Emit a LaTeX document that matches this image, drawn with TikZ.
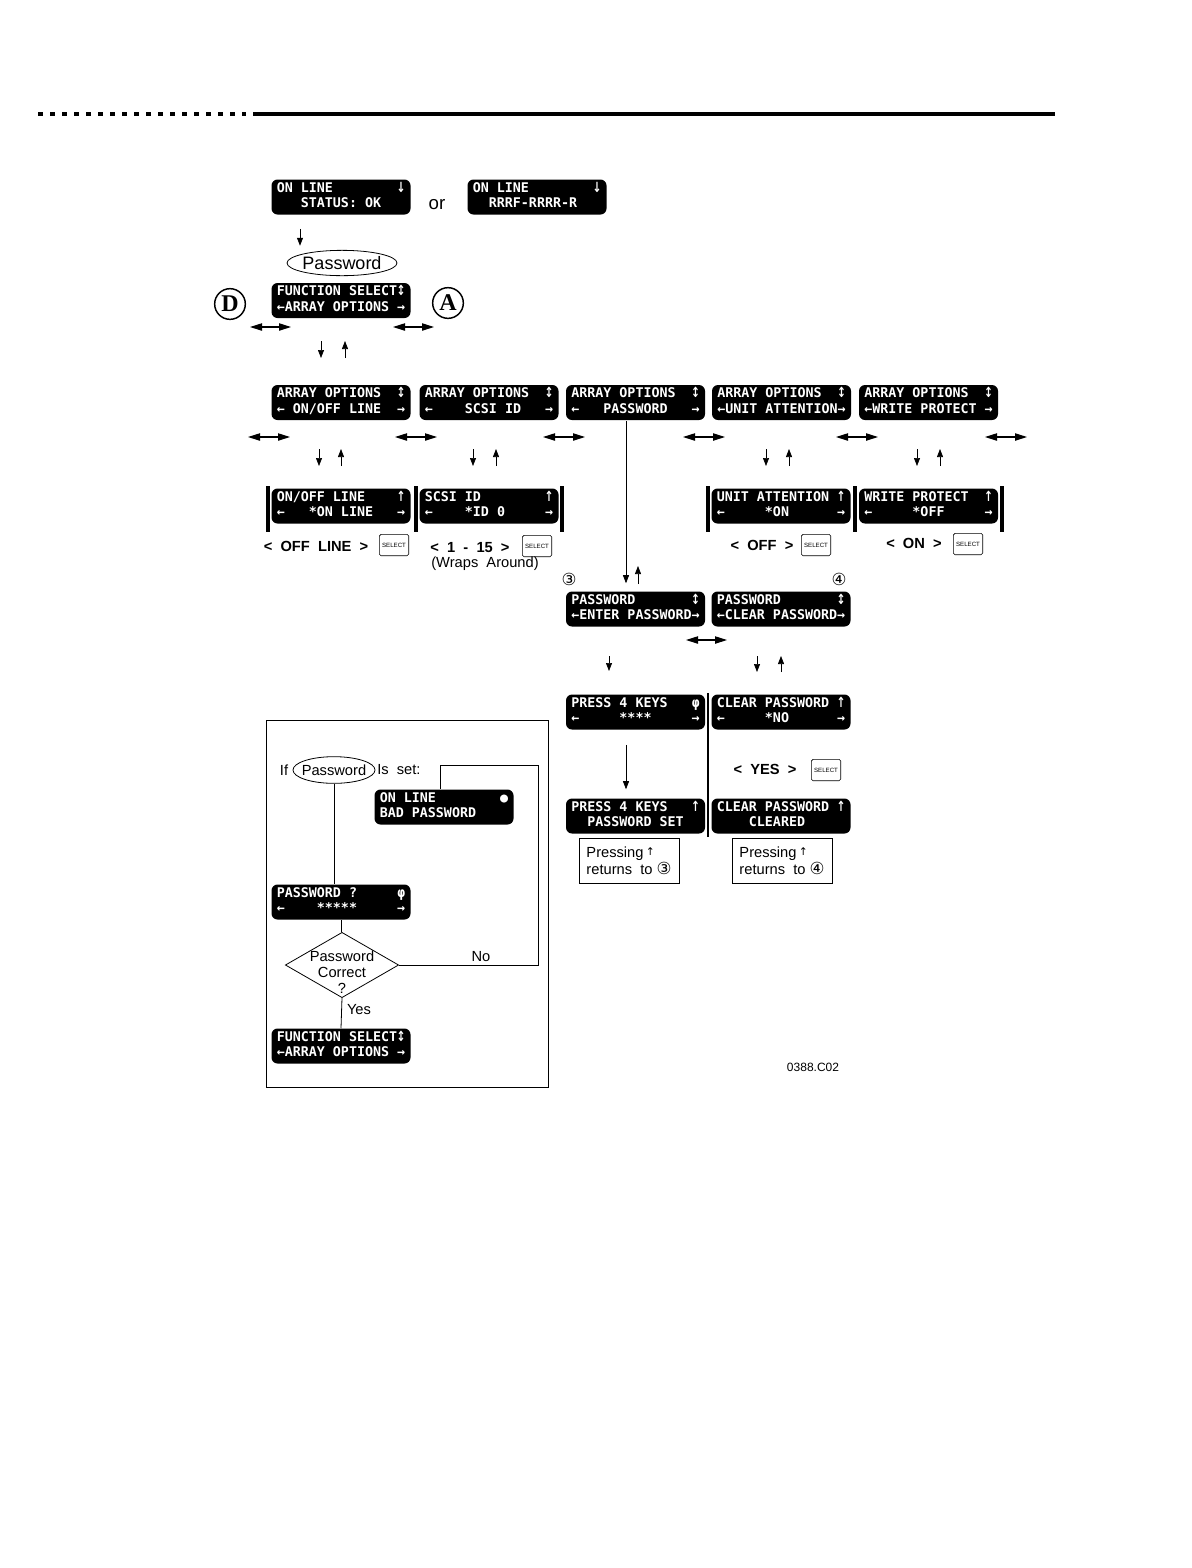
\documentclass[tikz,border=0pt]{standalone}
\usepackage{fontspec}
\usepackage{graphicx}
\setmainfont{Liberation Sans}
\newfontfamily\lcdfam{DejaVu Sans Mono}
\newfontfamily\djv{DejaVu Sans}
\newfontfamily\serfam{Liberation Serif}
\usetikzlibrary{arrows.meta,shapes.geometric,calc}
\newcommand\lcdt[2]{\begin{tabular}{@{}l@{}}#1\\#2\end{tabular}}
\newcommand\cnum[1]{{\djv\fontsize{12.5}{12.5}\selectfont #1}}
\newcommand\sym[1]{\makebox[6.02pt]{\scalebox{0.8}[1.05]{\djv\bfseries #1}}}
\tikzset{
  lcd/.style={fill=black, rounded corners=4.5pt, text=white,
    font=\lcdfam\bfseries\fontsize{10}{11.5}\selectfont,
    minimum width=104.25pt, minimum height=26.25pt, inner sep=0pt},
  tip/.style={-{Triangle[length=6pt,width=4.5pt]}, line width=0.5pt},
  dbl/.style={{Triangle[length=9pt,width=5.5pt]}-{Triangle[length=9pt,width=5.5pt]}, line width=0.8pt},
  bar/.style={line width=2.3pt},
  circ/.style={circle, draw=black, line width=1.1pt, minimum size=23pt, inner sep=0pt,
    font=\serfam\bfseries\fontsize{18}{18}\selectfont},
  selkey/.style={draw, line width=0.5pt, rounded corners=1.2pt, minimum width=22pt,
    minimum height=16pt, inner sep=0pt, font=\fontsize{4.6}{5}\selectfont},
  opt/.style={font=\bfseries\fontsize{11}{12}\selectfont, inner sep=0pt},
  txt/.style={font=\fontsize{11}{12}\selectfont, inner sep=0pt},
  pressbox/.style={draw, line width=0.6pt, minimum width=75pt, minimum height=34pt,
    inner sep=0pt, font=\fontsize{11}{11.5}\selectfont, align=left},
  flow/.style={line width=0.6pt},
}
\begin{document}
\begin{tikzpicture}[x=0.75pt,y=-0.75pt]
\useasboundingbox (0,0) rectangle (1192,1568);
% header rule
\draw[line width=2.6pt, dash pattern=on 3.5pt off 5.5pt] (38,114) -- (246,114);
\draw[line width=2.6pt] (253,114) -- (1055,114);

% top
\node[lcd] (st1) at (341,197) {\lcdt{ON~LINE~~~~~~~~\sym{↓}}{~~~STATUS:~OK}};
\node[lcd] (st2) at (537,197) {\lcdt{ON~LINE~~~~~~~~\sym{↓}}{~~RRRF-RRRR-R}};
\node[font=\fontsize{14}{14}\selectfont, inner sep=0pt] (or) at (437,205) {or};
\node[ellipse, draw, line width=0.6pt, minimum width=82.5pt, minimum height=19pt, inner sep=0pt] (pw) at (342,263) {};
\node[font=\fontsize{13.5}{14}\selectfont, inner sep=0pt] (pwt) at (pw) {Password};
\draw[tip] ($(st1.south)+(-41,14)$) -- ++(0,17);
\node[lcd] (fs) at (341,300.5) {\lcdt{FUNCTION~SELECT\sym{↕}}{←ARRAY~OPTIONS~→}};
\node[circ] (cD) at (230,304) {D};
\node[circ] (cA) at (448,303) {A};
\draw[dbl] (250,327) -- (291,327);
\draw[dbl] (393,327) -- (434,327);
\draw[tip] (321,341) -- (321,358);
\draw[tip] (345,358) -- (345,341);

% array options row
\node[lcd] (ao1) at (341,402.5) {\lcdt{ARRAY~OPTIONS~~\sym{↕}}{←~ON/OFF~LINE~~→}};
\node[lcd] (ao2) at (489,402.5) {\lcdt{ARRAY~OPTIONS~~\sym{↕}}{←~~~~SCSI~ID~~~→}};
\node[lcd] (aopw) at (635.5,402.5) {\lcdt{ARRAY~OPTIONS~~\sym{↕}}{←~~~PASSWORD~~~→}};
\node[lcd] (ao4) at (781.5,402.5) {\lcdt{ARRAY~OPTIONS~~\sym{↕}}{←UNIT~ATTENTION→}};
\node[lcd] (ao5) at (928.5,402.5) {\lcdt{ARRAY~OPTIONS~~\sym{↕}}{←WRITE~PROTECT~→}};
\foreach \a/\b in {248/290, 395/437, 543/585, 683/725, 836/878, 985/1027}
  \draw[dbl] (\a,437) -- (\b,437);
\foreach \d/\u in {319/341, 473/496, 766/789, 917/940}{
  \draw[tip] (\d,449) -- (\d,466);
  \draw[tip] (\u,466) -- (\u,449);
}

% sub rows
\node[lcd] (so1) at (341,506) {\lcdt{ON/OFF~LINE~~~~\sym{↑}}{←~~~*ON~LINE~~~→}};
\node[lcd] (so2) at (489,506) {\lcdt{SCSI~ID~~~~~~~~\sym{↑}}{←~~~~*ID~0~~~~~→}};
\node[lcd] (so4) at (781,506) {\lcdt{UNIT~ATTENTION~\sym{↑}}{←~~~~~*ON~~~~~~→}};
\node[lcd] (so5) at (928.5,506) {\lcdt{WRITE~PROTECT~~\sym{↑}}{←~~~~~*OFF~~~~~→}};
\foreach \x in {268,416,562,708,855,1002}
  \draw[bar] (\x,486) -- (\x,532);

\node[opt] (l1) at (316,546) {<\ \ OFF\ \ LINE\ \ >};
\node[selkey] (k1) at (394,545) {SELECT};
\node[opt] (l2) at (470,548) {<\ \ 1\ \ -\ \ 15\ \ >};
\node[selkey] (k2) at (537,546) {SELECT};
\node[txt] (l2b) at (485,564) {(Wraps\ \ Around)};
\node[opt] (l4) at (762,545) {<\ \ OFF\ \ >};
\node[selkey] (k4) at (816,545) {SELECT};
\node[opt] (l5) at (914,543) {<\ \ ON\ \ >};
\node[selkey] (k5) at (968,544) {SELECT};

% password branch
\node[lcd] (pe) at (635.5,609) {\lcdt{PASSWORD~~~~~~~\sym{↕}}{←ENTER~PASSWORD→}};
\node[lcd] (pc) at (781,609) {\lcdt{PASSWORD~~~~~~~\sym{↕}}{←CLEAR~PASSWORD→}};
\node[inner sep=0pt] (n3) at (569,579) {\cnum{③}};
\node[inner sep=0pt] (n4) at (839,579) {\cnum{④}};
\draw[tip] ($(aopw.south)+(-9.5,1)$) -- ($(pe.north)+(-9.5,-8)$);
\draw[tip] (638,584) -- (638,566);
\draw[dbl] (686,640) -- (727,640);
\draw[tip] (609,656) -- (609,671);
\draw[tip] (757,656) -- (757,672);
\draw[tip] (781,672) -- (781,656);

\node[lcd] (pk) at (635.5,712) {\lcdt{PRESS~4~KEYS~~~\sym{φ}}{←~~~~~****~~~~~→}};
\node[lcd] (pcl) at (781,712) {\lcdt{CLEAR~PASSWORD~\sym{↑}}{←~~~~~*NO~~~~~~→}};
\node[lcd] (ps) at (635.5,816) {\lcdt{PRESS~4~KEYS~~~\sym{↑}}{~~PASSWORD~SET}};
\node[lcd] (pcd) at (781,816) {\lcdt{CLEAR~PASSWORD~\sym{↑}}{~~~~CLEARED}};
\draw[line width=1.5pt] (708,693) -- (708,837);
\draw[tip] ($(pk.south)+(-9.5,15)$) -- ($(ps.north)+(-9.5,-9)$);
\node[opt] (l6) at (765,769) {<\ \ YES\ \ >};
\node[selkey] (k6) at (826,770) {SELECT};

\node[pressbox] (pr3) at (629,861) {Pressing\,\raisebox{2pt}{\djv\fontsize{8}{8}\selectfont ↑}\\returns\ \ to\ \cnum{③}};
\node[pressbox] (pr4) at (782,861) {Pressing\,\raisebox{2pt}{\djv\fontsize{8}{8}\selectfont ↑}\\returns\ \ to\ \cnum{④}};

% inset
\draw[line width=0.6pt] (266,720) rectangle (548,1087);
\node[txt] (if) at (284,770) {If};
\node[ellipse, draw, line width=0.6pt, minimum width=61.5pt, minimum height=20pt, inner sep=0pt] (ipw) at (334,770) {};
\node[txt] (ipwt) at (ipw) {Password};
\node[txt, anchor=west] (isset) at (377,770) {Is\ \ set:};
\node[lcd] (bad) at (444,807) {\lcdt{ON~LINE~~~~~~~~●}{BAD~PASSWORD}};
\node[lcd] (pq) at (341,902) {\lcdt{PASSWORD~?~~~~~\sym{φ}}{←~~~~*****~~~~~→}};
\node[diamond, draw, line width=0.6pt, minimum width=85pt, minimum height=49pt, inner sep=0pt] (dec) at (342,965) {};
\node[txt, align=center, font=\fontsize{11}{12}\selectfont] (dect) at (342,972) {Password\\Correct\\?};
\node[lcd] (fs2) at (341,1046) {\lcdt{FUNCTION~SELECT\sym{↕}}{←ARRAY~OPTIONS~→}};
\draw[flow] (ipw.south) -- (ipw.south |- pq.north);
\draw[flow] (pq.south) -- (pq.south |- dec.north);
\draw[flow] (dec.south) -- (fs2.north);
\coordinate (nr) at (538,765);
\draw[flow] (dec.east) -| (nr) -| ([xshift=-3pt]bad.north);
\node[txt] (no) at (481,957) {No};
\node[txt] (yes) at (359,1010) {Yes};

\node[font=\fontsize{9}{10}\selectfont, inner sep=0pt] (code) at (813,1067) {0388.C02};
\end{tikzpicture}
\end{document}
